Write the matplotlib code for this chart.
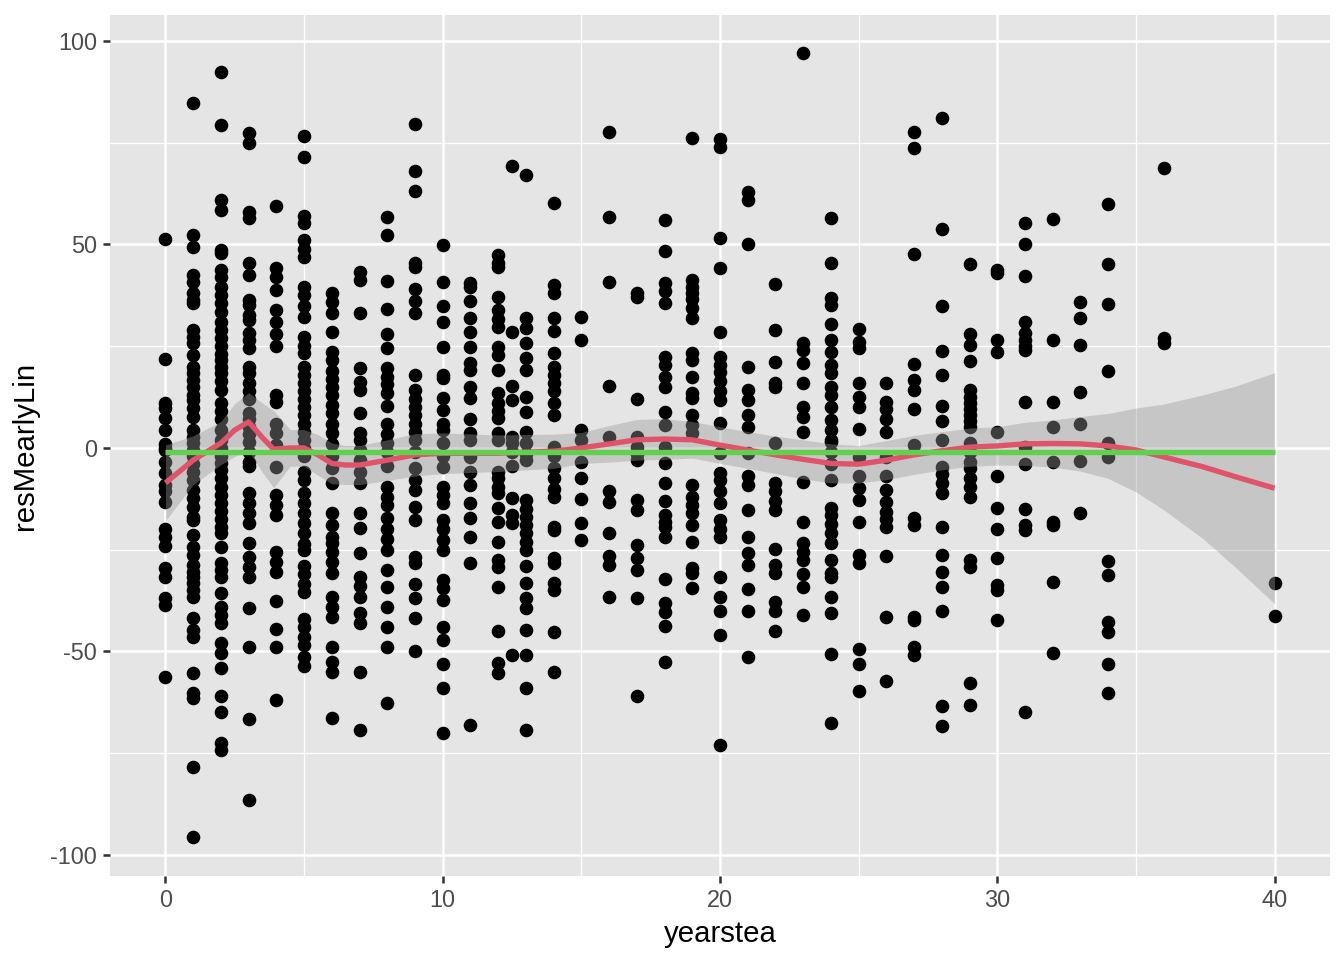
import numpy as np
import matplotlib
matplotlib.use("Agg")
import matplotlib.pyplot as plt

plt.rcParams['font.family'] = ['Liberation Sans', 'DejaVu Sans']
plt.rcParams['axes.unicode_minus'] = False

# ---- scatter data: residuals per yearstea value ----
y_x0 = [51.3, 21.8, 11, 9.8, 7.3, 4.4, 1, 0, -0.5, -3.4, -6.2, -9, -10.5, -13.2, -20, -21.8, -24.2, -29.5, -31.7, -37, -38.5, -56.3]
y_x1 = [84.7, 52.3, 49.3, 42.5, 40.8, 38, 36.4, 35.6, 29, 27.3, 25.8, 22.8, 20, 18.4, 16.7, 15, 13, 11.8, 9.8, 7.6, 4.4, 2.7, 1.2, -0.5, -2, -4, -6, -7.9, -10.3, -12.3, -14.5, -16.9, -17.7, -21.4, -24.3, -26.3, -28.7, -30.4, -31.6, -33.2, -34.9, -36.6, -41.8, -44.7, -46.4, -55.4, -60.2, -61.4, -78.3, -95.5]
y_x2 = [92.4, 79.4, 60.9, 58.5, 48.6, 47.9, 43.7, 42, 39.6, 37.5, 35.5, 33.5, 31, 29, 27, 25, 23, 21.6, 20, 18.3, 16.5, 14.3, 11, 9, 7, 4.4, 2, 0, -2, -3.7, -5.5, -7.5, -9.5, -11.5, -13.5, -15.5, -17.5, -19.5, -21, -24.3, -28.3, -30, -31.7, -35.6, -39, -41, -43, -48, -50.4, -54, -61, -64.8, -72.5, -74.2]
y_x3 = [77.3, 74.9, 58, 56.5, 45.5, 42.5, 36.4, 35.1, 32.7, 31.5, 28.2, 26.5, 24.5, 20, 18.4, 16, 14, 12, 8.5, 7, 5.2, 3.5, 1.5, -1, -3.5, -4.5, -11, -13.5, -16, -18.5, -23.3, -26.7, -29.3, -31.7, -39.3, -49, -66.5, -86.5]
y_x4 = [59.5, 44.2, 42, 38.8, 33.9, 31, 28, 25, 13, 11.3, 6, 3.6, 0.7, -4.8, -11.5, -14, -16.5, -25.5, -28, -30.5, -37.5, -44.4, -49, -62]
y_x5 = [76.6, 71.6, 57, 55.2, 51, 49, 47, 39.6, 37.5, 35, 32.2, 27.3, 25, 23.3, 20, 18, 16, 14, 12, 10, 8, 6, 4, 2, 0, -2, -6, -8, -11, -13.5, -16, -18.5, -21, -23.5, -25, -29, -31, -33.5, -35.5, -42, -44, -46.5, -48.5, -51.5, -53.5]
y_x6 = [38, 35.9, 33.1, 28.5, 23.7, 21.5, 19, 17, 15, 13, 10.5, 8.5, 6, 3.6, 1, -2, -5, -8.6, -16, -19, -21.8, -23.3, -25.5, -28, -30.8, -36.6, -39, -41.5, -48.9, -52.5, -55, -66.3]
y_x7 = [43.3, 41.3, 33.2, 19.6, 16.2, 14.3, 8.6, 3.7, 2, -0.5, -3, -6, -8.6, -16, -19.7, -25.8, -31.7, -34, -36.6, -40.5, -43, -55, -69.3]
y_x8 = [56.8, 52.3, 41, 34.2, 28, 24.5, 19.6, 17.5, 15.7, 13.5, 10.3, 6, 3.5, 1.2, -1, -4.5, -9.6, -12, -14, -17.2, -20, -22.5, -25, -30, -34.2, -39, -44, -48.9, -62.7]
y_x9 = [79.6, 68.1, 63.2, 45.4, 44.5, 39, 36, 33.1, 17.9, 14.3, 12, 10, 8, 6, 4, 2, -1, -5, -8, -10.3, -14.5, -17.7, -26.8, -28.3, -33.4, -36.9, -41.8, -49.9]
y_x10 = [49.9, 40.9, 34.9, 31, 24.8, 17.9, 17.2, 12.3, 9.3, 6, 4.4, 1.2, -2, -4.6, -9.6, -11.5, -13.5, -17.7, -20, -22.6, -25, -32.4, -34.5, -37.3, -44, -47.2, -53, -59, -70]
y_x11 = [40.5, 39.6, 36, 32, 28.5, 24.8, 20.8, 19.2, 15, 12.3, 7, 3.6, 2, -2.2, -5.9, -9, -13.5, -17.2, -21.8, -28.3, -68]
y_x12 = [47.4, 45.5, 44.5, 37.2, 33.9, 31.7, 29.8, 24.8, 22.8, 19.2, 13.5, 11, 9, 7.3, 3.6, 2, -5.9, -7.5, -9.6, -11, -14.7, -18.2, -23.1, -27.5, -29.2, -34.2, -45, -52.8, -55.3]
y_x12_5 = [69.3, 28.5, 15.2, 11.8, 2.7, 1.2, -1, -4.5, -12.3, -16.5, -18.4, -50.9]
y_x13 = [67.1, 31.9, 29.5, 25.8, 22.1, 19.2, 12.5, 8.8, 3.9, 1.2, -1.5, -3, -12.8, -15, -17, -19, -21, -23, -25, -29, -33.2, -36.9, -39.3, -44.7, -50.9, -59, -69.3]
y_x14 = [60.2, 40, 38.1, 31.9, 28.8, 23.4, 20, 18, 16, 14, 11, 8.1, 0.2, -2, -5, -7.5, -10, -12, -19.4, -20.1, -27, -28.3, -33.2, -34.9, -45.2, -55]
y_x15 = [32.2, 26.5, 4.4, 2, -3.4, -7.4, -12.5, -18.4, -22.6]
y_x16 = [77.7, 56.7, 40.7, 15.3, 2.8, -10.7, -13.4, -20.9, -26.6, -28.8, -36.6]
y_x17 = [38.2, 37, 12, 2.7, 0.3, -1.5, -3, -12.8, -15.2, -23.8, -27, -30, -37, -60.9]
y_x18 = [55.9, 48.3, 40.5, 38.5, 35.6, 22.3, 20.3, 17.5, 15, 8.9, 5.6, 0.3, -3.8, -8.6, -13, -16.5, -18.3, -19.5, -21.8, -32.2, -38, -40.3, -43.7, -52.5]
y_x19 = [76.1, 41.3, 39.5, 38, 36.5, 34.5, 32, 23.3, 21.5, 17.5, 13.5, 12.3, 8.1, 5.6, 3.6, -9.1, -12, -14, -16, -18.9, -23.1, -29.5, -30.8, -34.4]
y_x20 = [76, 74, 51.5, 44.2, 28.5, 22.3, 20.5, 18.6, 16.5, 14, 11.8, 6.2, -1.3, -6.2, -8, -10.5, -13.5, -17.7, -19.8, -21.8, -31.7, -36.6, -40, -46, -73]
y_x21 = [62.9, 61, 50.1, 19.9, 14.3, 11.8, 8.1, 5.2, -1.3, -7, -9, -15.2, -21.8, -25.8, -28.8, -34.7, -40, -51.3]
y_x22 = [40.3, 29, 21.1, 15.9, 15, 1.2, -8.6, -10.5, -13, -15.2, -24.8, -28.8, -30.8, -37.8, -40, -45]
y_x23 = [97, 25.8, 24, 20.8, 15.9, 10, 7.6, 3.9, -8.4, -18.1, -23.3, -25.5, -27.5, -30.9, -34.2, -41]
y_x24 = [56.6, 45.4, 36.8, 35.1, 30.5, 26.5, 23.6, 20.4, 18.4, 15, 13, 10, 6.9, 4.4, 1.5, 2, -1, -4, -7.9, -14.7, -16.5, -18.8, -21, -23.3, -27.5, -30.7, -31.7, -36.6, -40.5, -50.6, -67.6]
y_x25 = [29.2, 26, 24.5, 15.9, 12.5, 10, 4.6, -2.2, -7, -9.8, -12.8, -18.1, -26.3, -28.3, -49.5, -53, -59.7]
y_x26 = [16, 11.3, 9.5, 7, 3.9, -2.2, -7, -10.3, -13.2, -15.7, -17.5, -19.4, -26.5, -41.5, -57.2]
y_x27 = [77.7, 73.8, 47.7, 20.6, 16.7, 14.3, 9.5, 0.7, -17.2, -18.9, -41.5, -42.3, -48.9, -50.9]
y_x28 = [81.1, 53.7, 34.9, 23.9, 17.9, 10.3, 6.6, 2, -4.7, -6.5, -8.6, -11, -19.4, -26.3, -30.4, -34.2, -40, -63.4, -68.3]
y_x29 = [45.2, 27.9, 25.3, 21.4, 14.3, 12.5, 11, 9.5, 8, 6.5, 5.1, 1.2, -1, -3.5, -5, -7.5, -9.5, -12, -27.5, -29.2, -57.8, -63.1]
y_x30 = [43.7, 43, 26.5, 23.7, 3.9, -6.9, -14.7, -19.8, -27, -33.7, -34.9, -42.3]
y_x31 = [55.2, 50, 42.3, 31, 28.2, 26.5, 25, 24, 11.3, 0.3, -4, -15, -18.9, -20.1, -65]
y_x32 = [56.3, 26.6, 11.3, 5.2, -3.4, -18.2, -18.9, -32.9, -50.4]
y_x33 = [35.9, 31.9, 25.2, 13.8, 5.9, -3.2, -16]
y_x34 = [60, 45.3, 35.3, 18.9, 1.1, -2.2, -27.8, -31.2, -42.8, -45.2, -53.1, -60.2]
y_x36 = [68.9, 27, 25.8]
y_x40 = [-33.1, -41.3]

columns = [(0, y_x0), (1, y_x1), (2, y_x2), (3, y_x3), (4, y_x4), (5, y_x5),
           (6, y_x6), (7, y_x7), (8, y_x8), (9, y_x9), (10, y_x10), (11, y_x11),
           (12, y_x12), (12.5, y_x12_5), (13, y_x13), (14, y_x14), (15, y_x15),
           (16, y_x16), (17, y_x17), (18, y_x18), (19, y_x19), (20, y_x20),
           (21, y_x21), (22, y_x22), (23, y_x23), (24, y_x24), (25, y_x25),
           (26, y_x26), (27, y_x27), (28, y_x28), (29, y_x29), (30, y_x30),
           (31, y_x31), (32, y_x32), (33, y_x33), (34, y_x34), (36, y_x36),
           (40, y_x40)]

# ---- smoother ----
fit_x = [0, 1, 2, 2.5, 3, 3.5, 3.9, 4.5, 5, 5.5, 6, 6.5, 7, 8, 9, 10, 12, 14, 15, 16, 17, 18,
         19, 20, 21, 22, 23, 24, 25, 26, 27, 28, 29, 30, 31, 32, 33, 34, 35, 36, 37.4, 38.6, 40]
fit_y = [-8.6, -3, 1.2, 4.4, 6.4, 2.5, -0.3, 0, 0, -1.7, -3.8, -4.2, -4.2, -3, -1.7, -1.3, -1.3,
         -0.8, 0, 1, 2, 2.2, 2, 0.7, -0.5, -1.7, -2.8, -3.8, -4, -3, -1.7, -0.7, 0.2, 0.5, 1,
         1.1, 1, 0.5, -0.5, -2.2, -4.6, -7.1, -9.9]
fit_se = [9.3, 6, 5.3, 6.5, 7.2, 8.5, 9.5, 4.5, 4.5, 5, 5, 4.8, 4.8, 5, 5.2, 5, 4.5, 4.2, 3.8,
          4.5, 5, 5, 4.5, 4.5, 4.5, 4.6, 4.8, 4.8, 4.6, 4.8, 4.8, 4.7, 4.7, 4.7, 5.3, 5.8,
          6.7, 8, 10.3, 13, 17.6, 22.3, 28.4]
lm_level = -1.0  # flat linear fit (green)
x_range = [0, 40]

x_ticks = [0, 10, 20, 30, 40]
y_ticks = [-100, -50, 0, 50, 100]

# ---- figure ----
fig = plt.figure(figsize=(7, 5), dpi=192)
ax = fig.add_axes([110/1344, 1 - 876/960, (1330-110)/1344, (876-15)/960])
ax.set_facecolor('#E5E5E5')
for s in ax.spines.values():
    s.set_visible(False)

ax.set_xlim(-2, 42)
ax.set_ylim(-105.2, 106.4)

ax.set_xticks(x_ticks)
ax.set_yticks(y_ticks)
ax.set_xticks([5, 15, 25, 35], minor=True)
ax.set_yticks([-75, -25, 25, 75], minor=True)
ax.grid(which='major', color='white', linewidth=0.95)
ax.grid(which='minor', color='white', linewidth=0.48)
ax.set_axisbelow(True)
ax.tick_params(which='major', length=2.75, width=0.95, color='#333333',
               labelsize=8.8, labelcolor='#4D4D4D', pad=2.2)
ax.tick_params(which='minor', length=0)

xs = []
ys = []
for xv, vals in columns:
    xs.extend([xv] * len(vals))
    ys.extend(vals)
ax.scatter(xs, ys, s=26, color='black', linewidths=0, zorder=2)

fx = np.array(fit_x)
fy = np.array(fit_y)
fse = np.array(fit_se)
ax.fill_between(fx, fy - fse, fy + fse, color='#999999', alpha=0.4, linewidth=0, zorder=3)
ax.plot(fx, fy, color='#DF536B', linewidth=2.0, zorder=4, solid_capstyle='butt')
ax.plot(x_range, [lm_level, lm_level], color='#61D04F', linewidth=2.0, zorder=5,
        solid_capstyle='butt')

ax.set_xlabel('yearstea', fontsize=11, color='black', labelpad=3)
ax.set_ylabel('resMearlyLin', fontsize=11, color='black', labelpad=4)

fig.savefig('out.png', dpi=192, facecolor='white')
